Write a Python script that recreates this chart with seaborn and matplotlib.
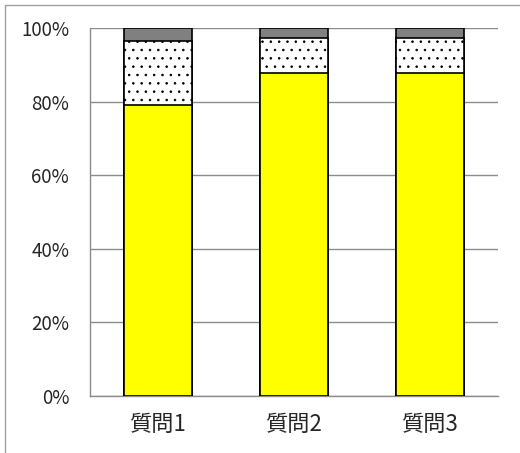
import matplotlib
matplotlib.use("Agg")
import matplotlib.pyplot as plt
import seaborn as sns
import pandas as pd
import numpy as np
from matplotlib.lines import Line2D

categories = ['質問1', '質問2', '質問3']
yellow = [79.1, 87.7, 87.7]
dotted = [17.4, 9.5, 9.5]
gray = [3.5, 2.8, 2.8]
yticks = [0, 20, 40, 60, 80, 100]
ytick_labels = ['0%', '20%', '40%', '60%', '80%', '100%']

sns.set_style('white')
plt.rcParams['font.family'] = ['Noto Sans CJK JP', 'DejaVu Sans']
plt.rcParams['hatch.linewidth'] = 0.6

c1 = np.array(yellow)
c2 = c1 + np.array(dotted)
c3 = c2 + np.array(gray)
df = pd.DataFrame({'cat': categories, 'y': c1, 'yd': c2, 'yg': c3})

fig = plt.figure(figsize=(5.2, 4.53), dpi=100)
ax = fig.add_axes([90/520, 57/453, 408/520, 368/453])

for col, fc, hatch in [('yg', '#808080', None), ('yd', 'white', '..'), ('y', '#FFFF00', None)]:
    sns.barplot(data=df, x='cat', y=col, ax=ax, color=fc, width=0.5,
                edgecolor='black', linewidth=1.2, saturation=1, hatch=hatch,
                errorbar=None, zorder=3)

ax.set_xlim(-0.5, 2.5)
ax.set_ylim(0, 100)
ax.set_yticks(yticks)
ax.set_yticklabels(ytick_labels, fontsize=13.5)
ax.set_xlabel('')
ax.set_ylabel('')
ax.tick_params(axis='y', length=0, pad=15)
ax.tick_params(axis='x', length=0, pad=12, labelsize=16)
ax.yaxis.grid(True, color='#8c8c8c', linewidth=1.0, zorder=0)
ax.set_axisbelow(True)
for s in ['top', 'right']:
    ax.spines[s].set_visible(False)
for s in ['left', 'bottom']:
    ax.spines[s].set_color('#8c8c8c')
    ax.spines[s].set_linewidth(1.0)

# outer chart frame (left and top edges visible)
fig.add_artist(Line2D([4.5/520, 4.5/520], [0, 1 - 4.5/453], color='#a0a0a0', linewidth=1.0, transform=fig.transFigure))
fig.add_artist(Line2D([4.5/520, 1], [1 - 4.5/453, 1 - 4.5/453], color='#a0a0a0', linewidth=1.0, transform=fig.transFigure))

fig.savefig('out.png', dpi=100)
